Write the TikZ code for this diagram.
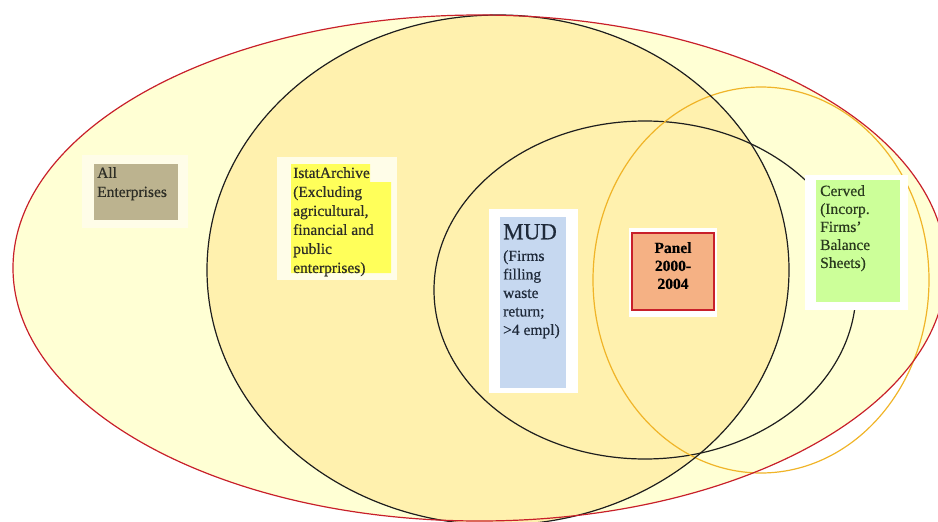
\documentclass[tikz,border=0pt]{standalone}
\usepackage{fontspec}
\setmainfont{Liberation Serif}
\newfontfamily\lblfont[FakeBold=0.5,Ligatures=TeX]{Liberation Serif}
\newfontfamily\lblbold[FakeBold=0.5,Ligatures=TeX]{Liberation Serif Bold}
\begin{document}
\begin{tikzpicture}[x=1pt,y=-1pt,
  outline/.style={line width=1.2pt},
  lbl/.style={anchor=north west,inner sep=0pt,align=left,text=txt,
    font=\lblfont\fontsize{15.5}{19}\selectfont},
  boxw/.style={fill=white,draw=none}]
\definecolor{bgout}{HTML}{FFFFD4}
\definecolor{bgin}{HTML}{FFF1AE}
\definecolor{redl}{HTML}{C8202A}
\definecolor{orl}{HTML}{F0B428}
\definecolor{blk}{HTML}{1E1E1E}
\definecolor{tan}{HTML}{BCB38F}
\definecolor{hl}{HTML}{FFFF5A}
\definecolor{blu}{HTML}{C6D8F0}
\definecolor{org}{HTML}{F5B184}
\definecolor{grn}{HTML}{CCFF99}
\definecolor{cream}{HTML}{FFFDE8}
\definecolor{txt}{HTML}{2E2E26}
\definecolor{mudtxt}{HTML}{1F2A3A}
\definecolor{cervtxt}{HTML}{2A3A1E}
\useasboundingbox (0,0) rectangle (938,522);
\clip (0,0) rectangle (938,522);
% sets
\path[fill=bgout] (479.5,268) ellipse [x radius=466.5pt, y radius=253pt];
\path[fill=bgin] (498,270) ellipse [x radius=291pt, y radius=255pt];
\draw[outline,draw=blk] (645,290) ellipse [x radius=211pt, y radius=169pt];
\draw[outline,draw=orl] (761,280) ellipse [x radius=168pt, y radius=193pt];
\draw[outline,draw=blk] (498,270) ellipse [x radius=291pt, y radius=255pt];
\draw[outline,draw=redl] (479.5,268) ellipse [x radius=466.5pt, y radius=253pt];
% All Enterprises
\fill[cream] (82,155) rectangle (188,228);
\fill[tan] (94,164) rectangle (178,220);
\node[lbl] (all) at (97,167) {All\\Enterprises};
% Istat
\fill[cream] (277,157) rectangle (397,280);
\fill[hl] (291,164) -- (370,164) -- (370,182) -- (391,182) -- (391,273) -- (291,273) -- cycle;
\node[lbl] (istat) at (293,167) {IstatArchive\\(Excluding\\agricultural,\\financial and\\public\\enterprises)};
% MUD
\fill[boxw] (489,209) rectangle (578,393);
\fill[blu] (500,217) rectangle (566,388);
\node[lbl,text=mudtxt,font=\lblfont\fontsize{23}{23}\selectfont] (mudt) at (503,224) {MUD};
\node[lbl,text=mudtxt,font=\lblfont\fontsize{15.5}{18.5}\selectfont] (mudb) at (503,250) {(Firms\\filling\\waste\\return;\\>4 empl)};
% Panel
\fill[boxw] (629,228) rectangle (717,317);
\filldraw[fill=org,draw=redl,line width=1.2pt] (632,233) rectangle (714,310);
\node[lbl,anchor=north,align=center,font=\lblbold\fontsize{15.5}{18}\selectfont,text=black] (panel) at (673,242) {Panel\\2000-\\2004};
% Cerved
\fill[boxw] (805,175) rectangle (908,310);
\fill[grn] (816,180) rectangle (900,302);
\node[lbl,text=cervtxt,font=\lblfont\fontsize{15.5}{18}\selectfont] (cerved) at (820,185) {Cerved\\(Incorp.\\Firms'\\Balance\\Sheets)};
\end{tikzpicture}
\end{document}
